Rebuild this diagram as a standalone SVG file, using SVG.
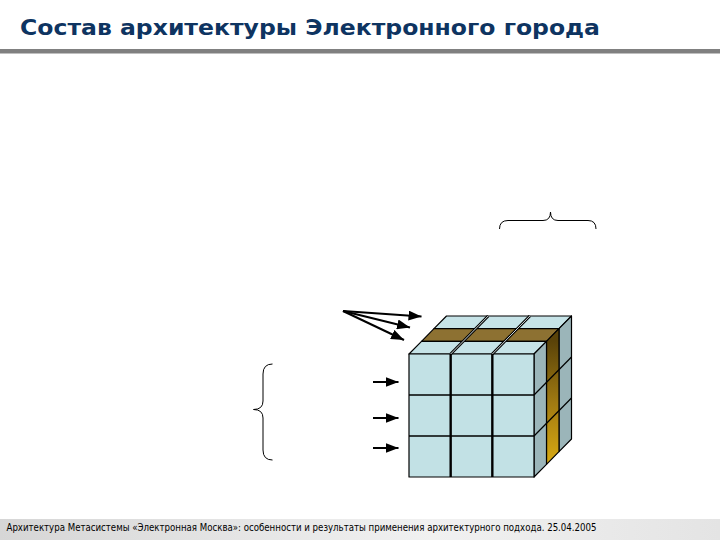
<svg xmlns="http://www.w3.org/2000/svg" width="720" height="540" viewBox="0 0 720 540">
  <style>
    .title { font-family: "DejaVu Sans", "Liberation Sans", sans-serif; font-weight: bold; font-size: 22px; fill: #0e3461; }
    .foot { font-family: "DejaVu Sans", "Liberation Sans", sans-serif; font-size: 10px; fill: #000000; }
    .edge { stroke: #000000; stroke-width: 1.2; stroke-linejoin: round; }
    .front { fill: #c2e1e5; }
    .top { fill: #c6e3e7; }
    .side { fill: #9bb5b9; }
    .brown { fill: #8d7132; }
    .line { stroke: #000000; fill: none; }
    .arrow { stroke: #000000; stroke-width: 2; fill: none; }
    .brace { stroke: #000000; stroke-width: 1; fill: none; }
  </style>
  <defs>
    <linearGradient id="gold" gradientUnits="userSpaceOnUse" x1="0" y1="341" x2="0" y2="464">
      <stop offset="0" stop-color="#5a4309"/>
      <stop offset="0.5" stop-color="#a07a12"/>
      <stop offset="1" stop-color="#d9aa12"/>
    </linearGradient>
    <linearGradient id="footbg" x1="0" y1="0" x2="1" y2="0">
      <stop offset="0" stop-color="#d6d6d6"/>
      <stop offset="0.6" stop-color="#f1f1f1"/>
      <stop offset="1" stop-color="#e4e4e4"/>
    </linearGradient>
    <marker id="ah" markerUnits="userSpaceOnUse" markerWidth="14" markerHeight="10" refX="13" refY="5" orient="auto">
      <path d="M0,0 L13,5 L0,10 Z" fill="#000000"/>
    </marker>
  </defs>

  <rect x="0" y="0" width="720" height="540" fill="#ffffff"/>

  <g id="header">
    <text class="title" x="20" y="35" textLength="580" lengthAdjust="spacingAndGlyphs">Состав архитектуры Электронного города</text>
    <rect x="0" y="49" width="720" height="4.5" fill="#808080"/>
  </g>

  <g id="cube">
    <!-- back slab -->
    <polygon class="top edge" points="434,328.67 559,328.67 571.5,316 446.5,316"/>
    <polygon class="side edge" points="559,328.67 571.5,316 571.5,439 559,451.67"/>
    <!-- middle slab -->
    <polygon class="brown edge" points="421.5,341.33 546.5,341.33 559,328.67 434,328.67"/>
    <polygon class="edge" fill="url(#gold)" points="546.5,341.33 559,328.67 559,451.67 546.5,464.33"/>
    <!-- front slab -->
    <polygon class="top edge" points="409,354 534,354 546.5,341.33 421.5,341.33"/>
    <polygon class="side edge" points="534,354 546.5,341.33 546.5,464.33 534,477"/>
    <rect class="front edge" x="409" y="354" width="125" height="123"/>
    <!-- top column separators (double lines) -->
    <line class="line" stroke-width="2.8" x1="450.67" y1="354" x2="488.17" y2="316"/>
    <line stroke="#e8f4f6" stroke-width="0.9" x1="450.67" y1="354" x2="488.17" y2="316"/>
    <line class="line" stroke-width="2.8" x1="492.33" y1="354" x2="529.83" y2="316"/>
    <line stroke="#e8f4f6" stroke-width="0.9" x1="492.33" y1="354" x2="529.83" y2="316"/>
    <!-- right face row separators -->
    <line class="line" stroke-width="1.2" x1="534" y1="395" x2="571.5" y2="357"/>
    <line class="line" stroke-width="1.2" x1="534" y1="436" x2="571.5" y2="398"/>
    <!-- front face grid -->
    <line class="line" stroke-width="2.4" x1="450.67" y1="354" x2="450.67" y2="477"/>
    <line class="line" stroke-width="2.4" x1="492.33" y1="354" x2="492.33" y2="477"/>
    <line class="line" stroke-width="1.6" x1="409" y1="395" x2="534" y2="395"/>
    <line class="line" stroke-width="1.6" x1="409" y1="436" x2="534" y2="436"/>
  </g>

  <g id="connectors">
    <line class="arrow" x1="343" y1="311" x2="421.5" y2="316.5" marker-end="url(#ah)"/>
    <line class="arrow" x1="343" y1="311" x2="410" y2="327.5" marker-end="url(#ah)"/>
    <line class="arrow" x1="343" y1="311" x2="404" y2="340" marker-end="url(#ah)"/>
    <line class="arrow" x1="373" y1="382" x2="398.5" y2="382" marker-end="url(#ah)"/>
    <line class="arrow" x1="373" y1="418" x2="398.5" y2="418" marker-end="url(#ah)"/>
    <line class="arrow" x1="373" y1="448" x2="398.5" y2="448" marker-end="url(#ah)"/>
  </g>

  <g id="brace-left">
    <path class="brace" d="M272.5,364 Q263,364 263,374 L263,401 Q263,409.5 253.5,409.5 Q263,409.5 263,418 L263,450 Q263,460 272.5,460"/>
  </g>
  <g id="brace-top">
    <path class="brace" d="M499.5,229 Q499.5,220.5 508,220.5 L543,220.5 Q550.5,220.5 550.5,212 Q550.5,220.5 558,220.5 L588,220.5 Q596,220.5 596,229"/>
  </g>

  <g id="footer">
    <rect x="0" y="519" width="720" height="21" fill="url(#footbg)"/>
    <text class="foot" x="6.5" y="530.5" textLength="590" lengthAdjust="spacingAndGlyphs">Архитектура Метасистемы «Электронная Москва»: особенности и результаты применения архитектурного подхода. 25.04.2005</text>
  </g>
</svg>
